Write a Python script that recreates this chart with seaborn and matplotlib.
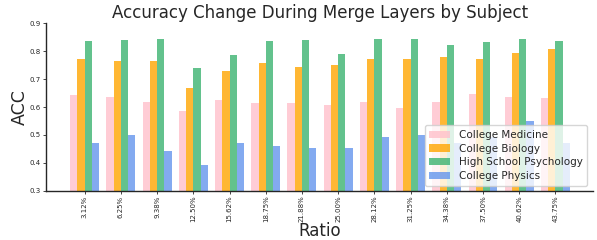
#!/usr/bin/env python3
"""
Accuracy change during merge layers, grouped bars per subject
"""
import numpy as np
import pandas as pd
import matplotlib
matplotlib.use("Agg")
import matplotlib.pyplot as plt
import seaborn as sns

ratios = ["3.12%", "6.25%", "9.38%", "12.50%", "15.62%", "18.75%", "21.88%",
          "25.00%", "28.12%", "31.25%", "34.38%", "37.50%", "40.62%", "43.75%"]
subjects = ["College Medicine", "College Biology", "High School Psychology",
            "College Physics"]

medicine = [0.643, 0.636, 0.618, 0.586, 0.625, 0.614, 0.614,
            0.607, 0.618, 0.596, 0.618, 0.647, 0.636, 0.632]
biology = [0.772, 0.765, 0.765, 0.668, 0.729, 0.758, 0.743,
           0.750, 0.772, 0.772, 0.779, 0.772, 0.794, 0.808]
psychology = [0.837, 0.839, 0.844, 0.740, 0.786, 0.837, 0.840,
              0.790, 0.844, 0.844, 0.822, 0.833, 0.844, 0.837]
physics = [0.471, 0.500, 0.442, 0.392, 0.471, 0.460, 0.453,
           0.453, 0.492, 0.500, 0.471, 0.492, 0.550, 0.471]

colors = ["pink", "orange", "mediumseagreen", "cornflowerblue"]


def build_frame():
    """Long-form table for seaborn"""
    rows = []
    for subj, vals in zip(subjects, [medicine, biology, psychology, physics]):
        for r, v in zip(ratios, vals):
            rows.append({"Ratio": r, "ACC": v, "Subject": subj})
    return pd.DataFrame(rows)


def main():
    sns.set_style("ticks")
    plt.rcParams['font.family'] = ['DejaVu Sans']
    df = build_frame()

    fig = plt.figure(figsize=(5.97, 2.4), dpi=100)
    ax = fig.add_axes([0.077, 0.205, 0.917, 0.698])

    sns.barplot(data=df, x="Ratio", y="ACC", hue="Subject", order=ratios,
                hue_order=subjects, palette=colors, alpha=0.8, width=0.8,
                saturation=1, linewidth=0, edgecolor="none", ax=ax)

    ax.set_ylim(0.3, 0.9)
    ax.set_xlim(-1.07, 14.05)
    ax.set_yticks(np.arange(0.3, 0.91, 0.1))
    ax.tick_params(axis='y', labelsize=5, length=2, width=0.6, pad=1.5)
    ax.tick_params(axis='x', labelsize=5, length=2, width=0.6, pad=1.5,
                   labelrotation=90)
    ax.set_ylabel("ACC", fontsize=12.5, labelpad=1)
    ax.set_xlabel("Ratio", fontsize=12, labelpad=0)
    ax.set_title("Accuracy Change During Merge Layers by Subject", fontsize=12,
                 pad=3.5)
    sns.despine(ax=ax)
    for s in ax.spines.values():
        s.set_linewidth(1.0)

    ax.legend(loc="lower right", fontsize=7.5, frameon=True, framealpha=0.8,
              handlelength=2.0, borderpad=0.45, labelspacing=0.35,
              bbox_to_anchor=(0.998, 0.0))

    fig.savefig("out.png", dpi=100)


if __name__ == "__main__":
    main()
